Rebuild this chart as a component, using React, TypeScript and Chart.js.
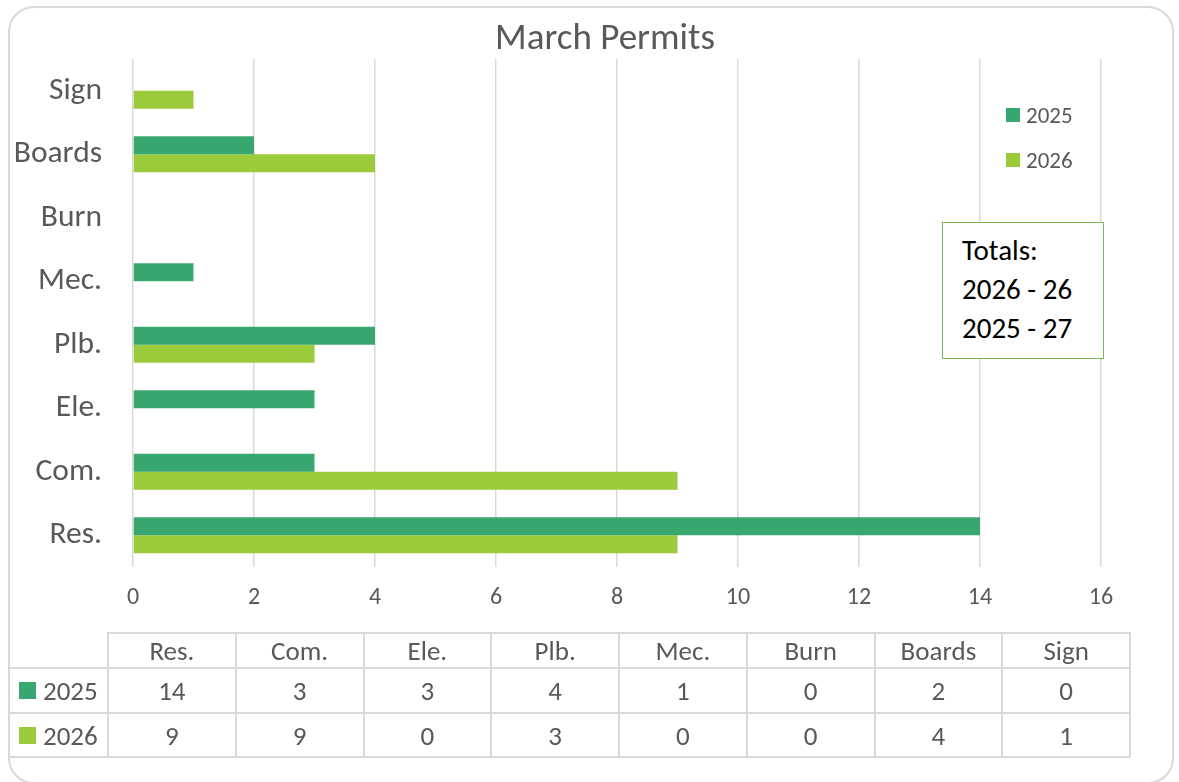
import React, { useEffect, useRef } from "react";
import { Chart, registerables } from "chart.js";

Chart.register(...registerables);

// ---- data ----
const chartTitle = "March Permits";
const categories = ["Res.", "Com.", "Ele.", "Plb.", "Mec.", "Burn", "Boards", "Sign"];
const seriesNames = ["2025", "2026"];
const values2025 = [14, 3, 3, 4, 1, 0, 2, 0];
const values2026 = [9, 9, 0, 3, 0, 0, 4, 1];
const xMin = 0;
const xMax = 16;
const xStep = 2;
const totalsLines = ["Totals:", "2026 - 26", "2025 - 27"];

// ---- styles ----
const colors = ["#38a76f", "#9bcb3b"];
const FONT = "Carlito, Lato, 'Open Sans', sans-serif";
const TEXT = "#595959";
const GRID = "#d9d9d9";

const W = 1179;
const H = 782;
const AREA = { left: 133, right: 1101, top: 59, bottom: 567 };
const TITLE_CX = 605;
const TITLE_CY = 36;

const TABLE = { left: 108, right: 1130, frameLeft: 9, rows: [633, 668, 713, 757] };

export default function App() {
  const canvasRef = useRef<HTMLCanvasElement | null>(null);

  useEffect(() => {
    const canvas = canvasRef.current;
    if (!canvas) return;
    const chart = new Chart(canvas, {
      type: "bar",
      data: {
        labels: categories,
        datasets: [
          {
            label: seriesNames[0],
            data: values2025,
            backgroundColor: colors[0],
            borderWidth: 0,
            categoryPercentage: 0.567,
            barPercentage: 1,
          },
          {
            label: seriesNames[1],
            data: values2026,
            backgroundColor: colors[1],
            borderWidth: 0,
            categoryPercentage: 0.567,
            barPercentage: 1,
          },
        ],
      },
      options: {
        indexAxis: "y",
        animation: false,
        responsive: false,
        devicePixelRatio: 1,
        layout: {
          padding: { left: 0, right: W - AREA.right, top: AREA.top, bottom: 0 },
        },
        plugins: {
          legend: { display: false },
          tooltip: { enabled: false },
          title: { display: false },
        },
        scales: {
          x: {
            type: "linear",
            min: xMin,
            max: xMax,
            ticks: {
              stepSize: xStep,
              color: TEXT,
              padding: 17,
              font: { family: FONT, size: 24 },
            },
            grid: { color: GRID, lineWidth: 1.5, drawTicks: false },
            border: { display: false },
            afterFit: (scale: any) => {
              scale.height = H - AREA.bottom;
            },
          },
          y: {
            type: "category",
            reverse: true,
            ticks: {
              color: TEXT,
              padding: 31,
              font: { family: FONT, size: 31.5, lineHeight: 1.1 },
            },
            grid: { display: false, drawTicks: false },
            border: { display: false },
            afterFit: (scale: any) => {
              scale.width = AREA.left;
            },
          },
        },
      },
    });
    return () => chart.destroy();
  }, []);

  const colW = (TABLE.right - TABLE.left) / categories.length;
  const [r0, r1, r2, r3] = TABLE.rows;
  const lines: React.ReactNode[] = [];
  lines.push(
    <div key="h0" style={{ position: "absolute", left: TABLE.left, top: r0 - 1, width: TABLE.right - TABLE.left, height: 2, background: GRID }} />
  );
  [r1, r2, r3].forEach((y, i) =>
    lines.push(
      <div key={"h" + (i + 1)} style={{ position: "absolute", left: TABLE.frameLeft, top: y - 1, width: TABLE.right - TABLE.frameLeft, height: 2, background: GRID }} />
    )
  );
  for (let i = 0; i <= categories.length; i++) {
    lines.push(
      <div key={"v" + i} style={{ position: "absolute", left: TABLE.left + i * colW - 1, top: r0 - 1, width: 2, height: r3 - r0 + 2, background: GRID }} />
    );
  }

  const cellStyle = (x: number, y0: number, y1: number, w: number): React.CSSProperties => ({
    position: "absolute",
    left: x,
    top: y0,
    width: w,
    height: y1 - y0,
    display: "flex",
    alignItems: "center",
    justifyContent: "center",
    fontFamily: FONT,
    fontSize: 27,
    color: TEXT,
    whiteSpace: "nowrap",
  });

  const rowData = [values2025, values2026];
  const rowBounds = [
    [r1, r2],
    [r2, r3],
  ];

  return (
    <div style={{ position: "absolute", left: 0, top: 0, width: W, height: H, background: "#ffffff", overflow: "hidden" }}>
      <div
        style={{
          position: "absolute",
          left: 8,
          top: 6,
          width: 1166,
          height: 778,
          border: "2px solid " + GRID,
          borderRadius: 26,
          boxSizing: "border-box",
        }}
      />
      <canvas ref={canvasRef} width={W} height={H} style={{ position: "absolute", left: 0, top: 0, width: W, height: H }} />

      {/* title */}
      <div
        style={{
          position: "absolute",
          left: 0,
          width: TITLE_CX * 2,
          top: TITLE_CY - 22,
          height: 44,
          display: "flex",
          alignItems: "center",
          justifyContent: "center",
          fontFamily: FONT,
          fontSize: 37,
          color: TEXT,
          whiteSpace: "nowrap",
        }}
      >
        {chartTitle}
      </div>

      {/* legend */}
      {seriesNames.map((name, i) => (
        <div
          key={name}
          style={{ position: "absolute", left: 1006, top: 101 + i * 45, height: 28, display: "flex", alignItems: "center", fontFamily: FONT, fontSize: 23, color: TEXT }}
        >
          <span style={{ display: "inline-block", width: 14, height: 14, background: colors[i], marginRight: 6 }} />
          <span>{name}</span>
        </div>
      ))}

      {/* totals box */}
      <div
        style={{
          position: "absolute",
          left: 942,
          top: 222,
          width: 162,
          height: 137,
          border: "1.5px solid #7cb656",
          boxSizing: "border-box",
          background: "#ffffff",
        }}
      />
      {totalsLines.map((t, i) => (
        <div
          key={t}
          style={{ position: "absolute", left: 962, top: 250 + i * 39 - 18, height: 36, display: "flex", alignItems: "center", fontFamily: FONT, fontSize: 29, color: "#000000", whiteSpace: "nowrap" }}
        >
          {t}
        </div>
      ))}

      {/* data table */}
      {lines}
      {categories.map((c, i) => (
        <div key={"hd" + c} style={cellStyle(TABLE.left + i * colW, r0, r1, colW)}>
          {c}
        </div>
      ))}
      {rowData.map((vals, ri) => (
        <React.Fragment key={"row" + ri}>
          <div
            style={{
              position: "absolute",
              left: 19,
              top: rowBounds[ri][0],
              height: rowBounds[ri][1] - rowBounds[ri][0],
              display: "flex",
              alignItems: "center",
              fontFamily: FONT,
              fontSize: 27,
              color: TEXT,
            }}
          >
            <span style={{ display: "inline-block", width: 17, height: 17, background: colors[ri], marginRight: 7 }} />
            <span>{seriesNames[ri]}</span>
          </div>
          {vals.map((v, ci) => (
            <div key={"c" + ri + "-" + ci} style={cellStyle(TABLE.left + ci * colW, rowBounds[ri][0], rowBounds[ri][1], colW)}>
              {v}
            </div>
          ))}
        </React.Fragment>
      ))}
    </div>
  );
}
